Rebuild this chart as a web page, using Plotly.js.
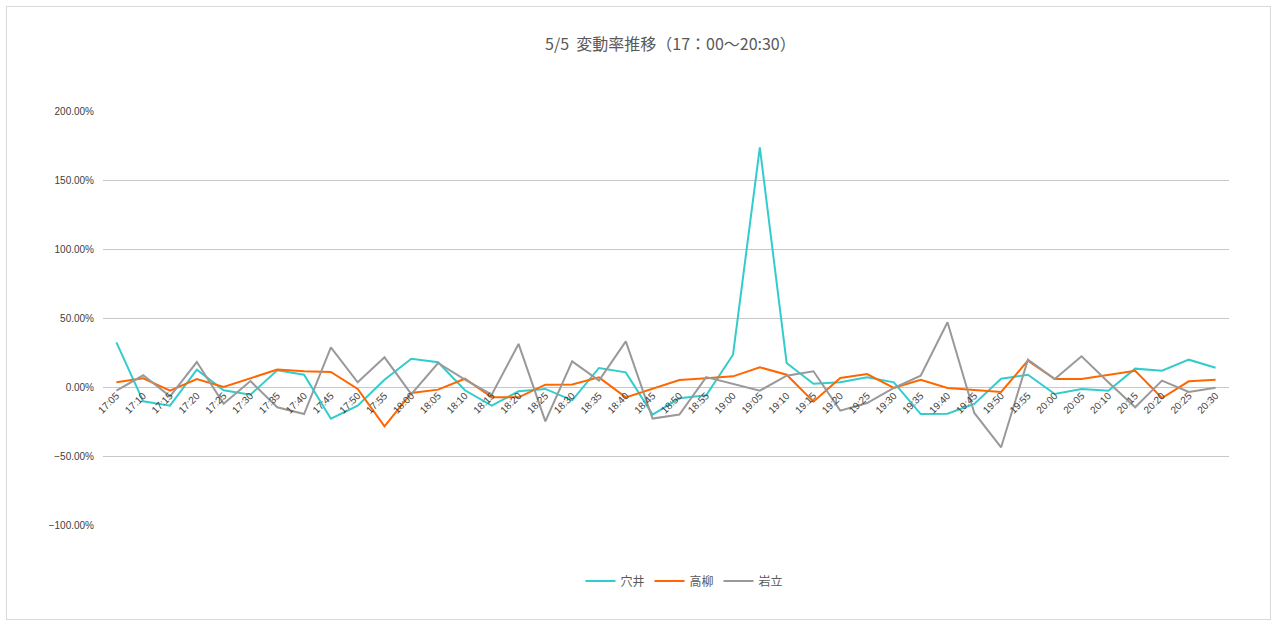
<!DOCTYPE html>
<html>
<head>
<meta charset="utf-8">
<script src="https://cdn.plot.ly/plotly-3.0.1.min.js"></script>
<style>
  html, body { margin: 0; padding: 0; background: #fff; }
  #wrap { position: relative; width: 1277px; height: 624px; }
  #chart { width: 1277px; height: 624px; }
  #frame { position: absolute; left: 6px; top: 6px; width: 1263px; height: 612px; border: 1px solid #d9d9d9; pointer-events: none; }
</style>
</head>
<body>
<div id="wrap"><div id="chart"></div><div id="frame"></div></div>
<script>
const times = ['17:05','17:10','17:15','17:20','17:25','17:30','17:35','17:40','17:45','17:50',
  '17:55','18:00','18:05','18:10','18:15','18:20','18:25','18:30','18:35','18:40',
  '18:45','18:50','18:55','19:00','19:05','19:10','19:15','19:20','19:25','19:30',
  '19:35','19:40','19:45','19:50','19:55','20:00','20:05','20:10','20:15','20:20',
  '20:25','20:30'];

const anai = [32.4, -10.4, -13.5, 12.6, -2.4, -5.6, 12.1, 8.9, -23.0, -13.5,
  5.3, 20.5, 17.9, -2.4, -13.5, -3.1, -1.4, -9.7, 13.8, 10.6,
  -20.0, -8.2, -6.0, 23.4, 173.7, 17.4, 2.4, 3.4, 7.0, 3.4,
  -19.6, -19.3, -12.3, 6.0, 8.9, -5.1, -1.4, -2.7, 13.3, 11.8,
  19.8, 14.0];

const takayanagi = [3.4, 6.3, -2.7, 5.8, 0.0, 6.3, 12.6, 11.4, 10.9, -1.4,
  -28.5, -4.3, -1.9, 6.0, -7.5, -7.5, 1.7, 1.9, 7.0, -7.5,
  -1.4, 5.1, 6.3, 7.7, 14.3, 8.9, -10.6, 6.5, 9.4, -0.7,
  5.3, -0.7, -2.2, -3.6, 19.1, 5.8, 5.8, 8.9, 11.8, -8.0,
  4.1, 5.3];

const iwatate = [-2.7, 8.5, -6.8, 18.1, -12.1, 4.3, -14.7, -19.6, 28.7, 3.4,
  21.5, -5.1, 17.4, 5.3, -5.6, 31.2, -24.9, 18.6, 4.6, 33.1,
  -22.9, -20.0, 7.2, 2.4, -2.7, 8.2, 11.4, -17.1, -11.6, -0.7,
  8.2, 46.9, -18.8, -43.7, 19.8, 5.8, 22.2, 3.4, -14.7, 4.6,
  -3.6, -0.5];

const seriesNames = ['穴井', '高柳', '岩立'];
const seriesData = [anai, takayanagi, iwatate];
const seriesColors = ['#33CCCC', '#FF6600', '#999999'];

const yMin = -100, yMax = 200;

const traces = seriesData.map((vals, k) => ({
  type: 'scatter',
  mode: 'lines',
  name: seriesNames[k],
  x: times,
  y: vals,
  line: { color: seriesColors[k], width: 2 },
  hoverinfo: 'x+y+name'
}));

const layout = {
  width: 1277,
  height: 624,
  paper_bgcolor: '#ffffff',
  plot_bgcolor: '#ffffff',
  margin: { l: 103, r: 48, t: 111, b: 99 },
  font: { family: '"Liberation Sans", Arial, sans-serif', color: '#595959', size: 10 },
  title: {
    text: '5/5  変動率推移（17：00～20:30）',
    font: { family: '"Noto Sans CJK JP", sans-serif', size: 16, color: '#595959' },
    x: 0.525, xref: 'container', xanchor: 'center',
    y: 1 - 44 / 624, yref: 'container', yanchor: 'middle'
  },
  xaxis: {
    type: 'category',
    range: [-0.5, times.length - 0.5],
    anchor: 'free',
    position: (0 - yMin) / (yMax - yMin),
    tickangle: -45,
    showgrid: false,
    showline: false,
    zeroline: false,
    ticks: '',
    tickfont: { family: '"Liberation Sans", Arial, sans-serif', size: 10, color: '#404040' },
    fixedrange: true
  },
  yaxis: {
    range: [yMin, yMax],
    dtick: 50,
    tick0: 0,
    tickformat: '.2f',
    ticksuffix: '%',
    showgrid: true,
    gridcolor: '#C8C8C8',
    gridwidth: 1,
    zeroline: false,
    showline: false,
    ticks: '',
    ticklabelstandoff: 8,
    tickfont: { family: '"Liberation Sans", Arial, sans-serif', size: 10, color: '#404040' },
    fixedrange: true
  },
  showlegend: true,
  legend: {
    orientation: 'h',
    x: 0.536, xref: 'container', xanchor: 'center',
    y: 1 - 581 / 624, yref: 'container', yanchor: 'middle',
    font: { family: '"Noto Sans CJK JP", sans-serif', size: 12, color: '#595959' },
    itemwidth: 30,
    tracegroupgap: 0,
    bgcolor: 'rgba(0,0,0,0)'
  }
};

Plotly.newPlot('chart', traces, layout, { displayModeBar: false, staticPlot: true });
</script>
</body>
</html>
